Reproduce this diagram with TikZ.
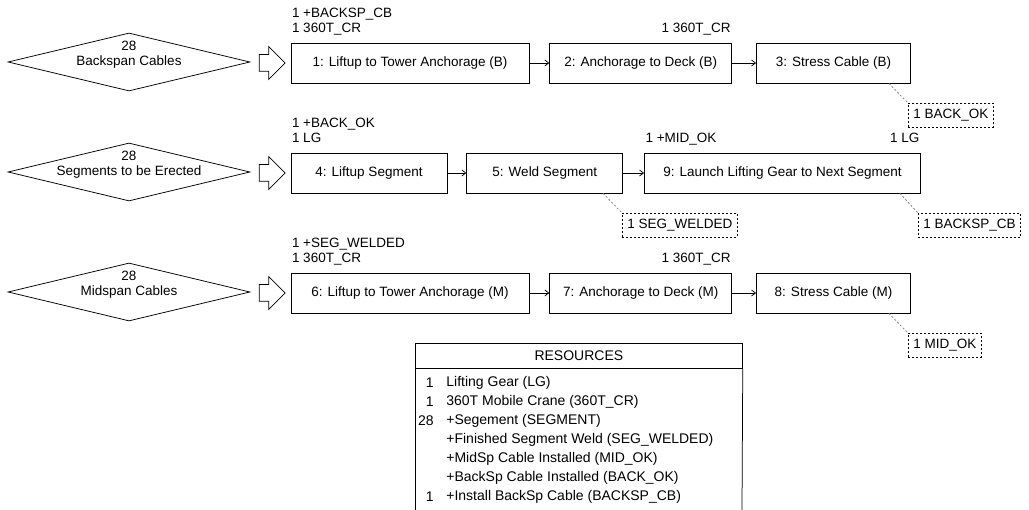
\documentclass[tikz,border=0pt]{standalone}
\usepackage{fontspec}
\setmainfont{Liberation Sans}
\usetikzlibrary{shapes}
\usetikzlibrary{arrows.meta}
\usetikzlibrary{positioning}

\tikzset{
  decision/.style={draw, diamond, aspect=4, minimum width=242pt, minimum height=58pt, inner sep=0pt},
  task/.style={draw, rectangle, minimum height=40pt, inner sep=0pt},
  feed/.style={draw, single arrow, single arrow head extend=8pt, minimum height=26pt, inner xsep=0pt, inner ysep=8pt},
  req/.style={align=left, anchor=south west, text depth=0pt, inner sep=1pt, yshift=9pt},
  reqr/.style={align=right, anchor=south east, text depth=0pt, inner sep=1pt, yshift=9pt},
  outbox/.style={draw, dash pattern=on 2pt off 2pt, minimum height=24pt, inner xsep=5pt, anchor=north west},
  flow/.style={-{Straight Barb[length=4pt,width=6pt]}},
  link/.style={gray, dash pattern=on 2pt off 2pt},
  resrow/.style={inner sep=0pt, font=\fontsize{14}{16}\selectfont},
}

\begin{document}
\begin{tikzpicture}[x=1pt, y=-1pt, line width=0.75pt, every node/.style={font=\fontsize{13.5}{15}\selectfont}]
  \useasboundingbox (0,0) rectangle (1029,510);

  % backspan cables
  \node[decision, label={[yshift=-22pt]above:28}] (bs) at (129,62) {Backspan Cables};
  \node[feed] (in1) at (268,63) {};
  \node[task, minimum width=238pt] (t1) at (410,63) {1: Liftup to Tower Anchorage (B)};
  \node[task, minimum width=182pt, right=20pt of t1] (t2) {2: Anchorage to Deck (B)};
  \node[task, minimum width=154pt, right=24pt of t2] (t3) {3: Stress Cable (B)};
  \draw[flow] (t1) -- (t2);
  \draw[flow] (t2) -- (t3);
  \node[req] (q1) at (t1.north west) {1 +BACKSP\_CB\\1 360T\_CR};
  \node[reqr] (q2) at (t2.north east) {1 360T\_CR};
  \node[outbox] (o3) at (908,103) {1 BACK\_OK};
  \draw[link] ([xshift=-22pt]t3.south east) -- (o3.north west);

  % segments
  \node[decision, label={[yshift=-22pt]above:28}] (sg) at (129,172) {Segments to be Erected};
  \node[feed] (in2) at (268,173) {};
  \node[task, minimum width=156pt] (t4) at (369,173) {4: Liftup Segment};
  \node[task, minimum width=156pt, right=19pt of t4] (t5) {5: Weld Segment};
  \node[task, minimum width=276pt, right=21pt of t5] (t9) {9: Launch Lifting Gear to Next Segment};
  \draw[flow] (t4) -- (t5);
  \draw[flow] (t5) -- (t9);
  \node[req] (q4) at (t4.north west) {1 +BACK\_OK\\1 LG};
  \node[req] (q9) at (t9.north west) {1 +MID\_OK};
  \node[reqr] (q9r) at (t9.north east) {1 LG};
  \node[outbox] (o5) at (622,213) {1 SEG\_WELDED};
  \draw[link] ([xshift=-20pt]t5.south east) -- (o5.north west);
  \node[outbox] (o9) at (918,213) {1 BACKSP\_CB};
  \draw[link] ([xshift=-21pt]t9.south east) -- (o9.north west);

  % midspan cables
  \node[decision, label={[yshift=-22pt]above:28}] (md) at (129,292) {Midspan Cables};
  \node[feed] (in3) at (268,293) {};
  \node[task, minimum width=238pt] (t6) at (410,293) {6: Liftup to Tower Anchorage (M)};
  \node[task, minimum width=182pt, right=20pt of t6] (t7) {7: Anchorage to Deck (M)};
  \node[task, minimum width=154pt, right=24pt of t7] (t8) {8: Stress Cable (M)};
  \draw[flow] (t6) -- (t7);
  \draw[flow] (t7) -- (t8);
  \node[req] (q6) at (t6.north west) {1 +SEG\_WELDED\\1 360T\_CR};
  \node[reqr] (q7) at (t7.north east) {1 360T\_CR};
  \node[outbox] (o8) at (908,333) {1 MID\_OK};
  \draw[link] ([xshift=-22pt]t8.south east) -- (o8.north west);

  % resources
  \node[draw, resrow, minimum width=327pt, minimum height=25pt, anchor=north west] (res) at (415,343) {RESOURCES};
  \coordinate (resl) at (415,510);
  \coordinate (resr) at (742,510);
  \draw (res.south west) -- (resl);
  \draw (res.south east) -- (resr);
  \foreach \n/\t [count=\i] in {1/Lifting Gear (LG), 1/360T Mobile Crane (360T\_CR),
      28/+Segement (SEGMENT), /+Finished Segment Weld (SEG\_WELDED),
      /+MidSp Cable Installed (MID\_OK), /+BackSp Cable Installed (BACK\_OK),
      1/+Install BackSp Cable (BACKSP\_CB)}
  {
    \node[resrow, anchor=east] (n\i) at (434,364+19*\i) {\n};
    \node[resrow, anchor=west] (r\i) at (446,364+19*\i) {\t};
  }
\end{tikzpicture}
\end{document}
